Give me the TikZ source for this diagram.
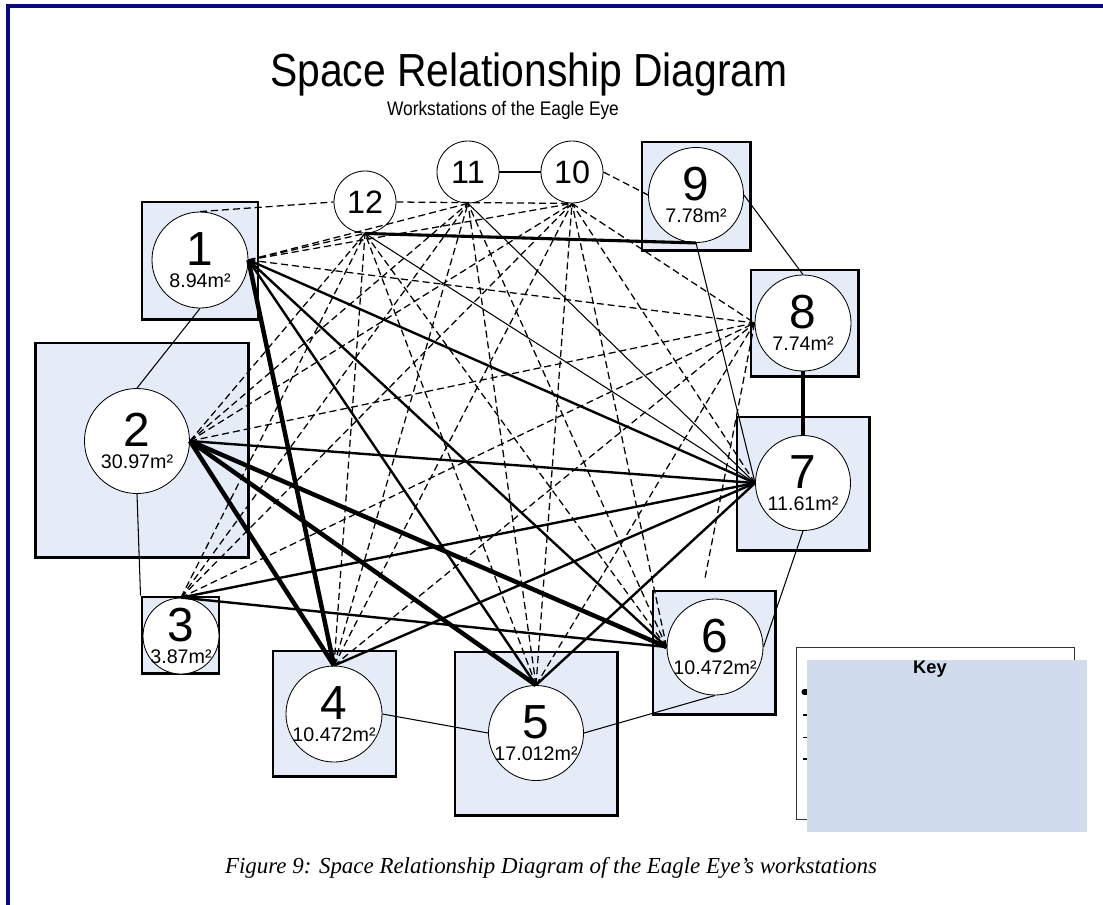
\documentclass[tikz,border=0pt]{standalone}
\usepackage{fontspec}
\setmainfont{Liberation Sans}
\newfontfamily\captionfont{Liberation Serif}
\usepackage{xcolor}
\usepackage{tikz}

\definecolor{areablue}{RGB}{229,236,247}
\definecolor{keyblue}{RGB}{208,220,237}
\definecolor{framenavy}{RGB}{10,10,130}

\newcommand{\wnum}[1]{{\fontsize{34}{34}\selectfont #1}}
\newcommand{\warea}[1]{\makebox[0pt]{#1}}

\begin{document}
\begin{tikzpicture}[
    x=0.025cm, y=-0.025cm,
    area/.style={rectangle, draw=black, fill=areablue, line width=2.1pt, inner sep=0pt},
    ws/.style={circle, draw=black, fill=white, line width=0.6pt, inner sep=0pt, align=center, font=\fontsize{14}{15.5}\selectfont},
    smallws/.style={circle, draw=black, fill=white, line width=0.6pt, inner sep=0pt, minimum size=1.55cm, font=\fontsize{23}{23}\selectfont},
    vital/.style={draw=black, line width=3.2pt},
    strong/.style={draw=black, line width=2.2pt},
    important/.style={draw=black, line width=1.7pt},
    ordinary/.style={draw=black, line width=0.75pt},
    unimportant/.style={draw=black, line width=0.9pt, dash pattern=on 5pt off 2.8pt}
]
    \useasboundingbox (0,0) rectangle (1103,904);

    % Frame
    \draw[framenavy, line width=2.2pt] (8,930) -- (8,6) -- (1130,6);

    % Title
    \node[font=\fontsize{33}{33}\selectfont, anchor=base, xscale=0.88] (TITLE) at (529,86) {Space Relationship Diagram};
    \node[font=\fontsize{14}{14}\selectfont, anchor=base, xscale=0.88] (SUB) at (503,115) {Workstations of the Eagle Eye};

    % Workstation areas
    \node[area, minimum width=2.9cm,   minimum height=2.925cm] (A1) at (200,260.5) {};
    \node[area, minimum width=5.3cm,   minimum height=5.35cm]  (A2) at (142,450) {};
    \node[area, minimum width=1.925cm, minimum height=1.9cm]   (A3) at (180.5,635) {};
    \node[area, minimum width=3.075cm, minimum height=3.125cm] (A4) at (334.5,713.5) {};
    \node[area, minimum width=4.05cm,  minimum height=4.075cm] (A5) at (536,733.5) {};
    \node[area, minimum width=3.05cm,  minimum height=3.075cm] (A6) at (714,652.5) {};
    \node[area, minimum width=3.3cm,   minimum height=3.325cm] (A7) at (803,483.5) {};
    \node[area, minimum width=2.675cm, minimum height=2.65cm]  (A8) at (804.5,323) {};
    \node[area, minimum width=2.7cm,   minimum height=2.7cm]   (A9) at (696,196) {};

    % Workstations
    \node[ws, minimum size=2.4cm]   (W1) at (200,260) {\wnum{1}\\\warea{8.94m²}};
    \node[ws, minimum size=2.625cm] (W2) at (137,441) {\wnum{2}\\\warea{30.97m²}};
    \node[ws, minimum size=1.9cm]   (W3) at (181,636) {\wnum{3}\\\warea{3.87m²}};
    \node[ws, minimum size=2.4cm]   (W4) at (334,714) {\wnum{4}\\\warea{10.472m²}};
    \node[ws, minimum size=2.375cm] (W5) at (536,733) {\wnum{5}\\\warea{17.012m²}};
    \node[ws, minimum size=2.4cm]   (W6) at (715,647) {\wnum{6}\\\warea{10.472m²}};
    \node[ws, minimum size=2.375cm] (W7) at (803,483) {\wnum{7}\\\warea{11.61m²}};
    \node[ws, minimum size=2.4cm]   (W8) at (803,323) {\wnum{8}\\\warea{7.74m²}};
    \node[ws, minimum size=2.375cm] (W9) at (696,195) {\wnum{9}\\\warea{7.78m²}};
    \node[smallws] (W10) at (572,172) {10};
    \node[smallws] (W11) at (468,172) {11};
    \node[smallws] (W12) at (365,202) {12};

    % Ring
    \draw[ordinary] (W1.south) -- (W2.north);
    \draw[ordinary] (W2.south) -- (A3.north west);
    \draw[ordinary] (W4.east) -- (W5.west);
    \draw[ordinary] (W5.east) -- (W6.south);
    \draw[ordinary] (W6.east) -- (W7.south);
    \draw[vital] (W8.south) -- (W7.north);
    \draw[ordinary] (W9.east) -- (W8.north);
    \draw[unimportant] (W10.east) -- (W9.west);
    \draw[ordinary] (W11.east) -- (W10.west);
    \draw[unimportant] (W12.east) -- (W10.south);
    \draw[unimportant] (W1.north) -- (W12.west);

    % Absolutely necessary
    \draw[vital] (W1.east) -- (W4.north);
    \draw[vital] (W2.east) -- (W4.north);
    \draw[vital] (W2.east) -- (W5.north);
    \draw[vital] (W2.east) -- (W6.west);
    \draw[strong] (W12.south) -- (W9.south);

    % Important
    \draw[important] (W1.east) -- (W5.north);
    \draw[important] (W1.east) -- (W6.west);
    \draw[important] (W1.east) -- (W7.west);
    \draw[important] (W2.east) -- (W7.west);
    \draw[important] (W3.north) -- (W6.west);
    \draw[important] (W3.north) -- (W7.west);
    \draw[important] (W4.north) -- (W7.west);
    \draw[important] (W5.north) -- (W7.west);

    % Ordinary
    \draw[ordinary] (W12.south) -- (W7.west);
    \draw[ordinary] (W11.south) -- (W7.west);
    \draw[ordinary] (W9.south) -- (W7.west);

    % Unimportant
    \draw[unimportant] (W1.east) -- (W12.south);
    \draw[unimportant] (W1.east) -- (W11.south);
    \draw[unimportant] (W1.east) -- (W10.south);
    \draw[unimportant] (W1.east) -- (W8.west);
    \draw[unimportant] (W2.east) -- (W12.south);
    \draw[unimportant] (W2.east) -- (W11.south);
    \draw[unimportant] (W2.east) -- (W10.south);
    \draw[unimportant] (W2.east) -- (W8.west);
    \draw[unimportant] (W3.north) -- (W12.south);
    \draw[unimportant] (W3.north) -- (W11.south);
    \draw[unimportant] (W3.north) -- (W10.south);
    \draw[unimportant] (W3.north) -- (W8.west);
    \draw[unimportant] (W4.north) -- (W12.south);
    \draw[unimportant] (W4.north) -- (W11.south);
    \draw[unimportant] (W4.north) -- (W10.south);
    \draw[unimportant] (W4.north) -- (W8.west);
    \draw[unimportant] (W5.north) -- (W12.south);
    \draw[unimportant] (W5.north) -- (W11.south);
    \draw[unimportant] (W5.north) -- (W10.south);
    \draw[unimportant] (W5.north) -- (W8.west);
    \draw[unimportant] (W6.west) -- (W12.south);
    \draw[unimportant] (W6.west) -- (W11.south);
    \draw[unimportant] (W6.west) -- (W10.south);
    \draw[unimportant] (W7.west) -- (W10.south);
    \draw[unimportant] (W10.south) -- (W8.west);
    \coordinate (E68) at (705,578);
    \draw[unimportant] (W8.west) -- (E68);

    % Key
    \node[rectangle, draw=black!80, fill=white, line width=0.6pt, minimum width=6.95cm, minimum height=4.3cm, inner sep=0pt] (KEYBOX) at (935,733) {};
    \draw[line width=3.6pt, line cap=round] (804,692) -- (830,692);
    \draw[line width=2.1pt] (803,715) -- (830,715);
    \draw[line width=0.7pt] (803,737) -- (830,737);
    \draw[line width=1.4pt] (803,759) -- (830,759);
    \node[rectangle, fill=keyblue, minimum width=7cm, minimum height=4.3cm, inner sep=0pt] (KEYFILL) at (947,746) {};
    \node[font=\bfseries\fontsize{13}{13}\selectfont] (KEY) at (930,669) {Key};

    % Caption
    \node[font=\captionfont\itshape\fontsize{16.3}{18}\selectfont, anchor=base] (CAP) at (551,873) {Figure 9: Space Relationship Diagram of the Eagle Eye’s workstations};
\end{tikzpicture}
\end{document}
